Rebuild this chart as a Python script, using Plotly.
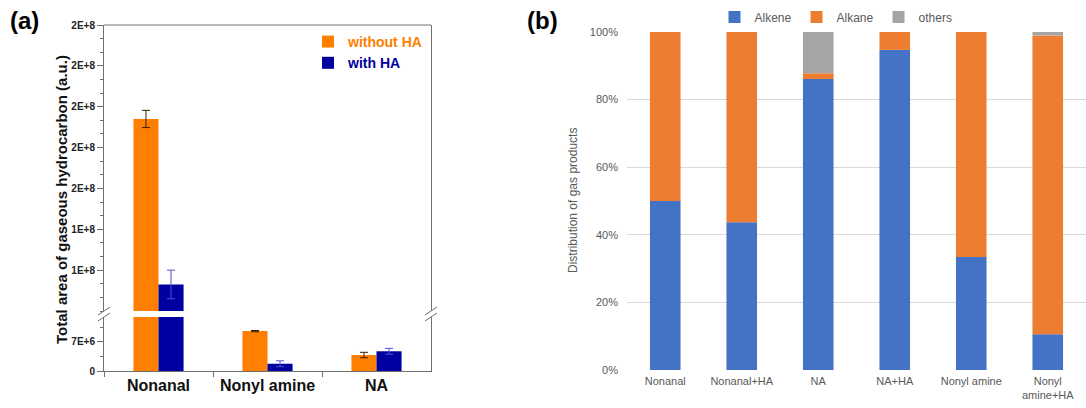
import numpy as np
import plotly.graph_objects as go

# ---------------- data: panel (a) ----------------
cats_a = ["Nonanal", "Nonyl amine", "NA"]
without_ha = [1.94e8, 9.6e6, 3.85e6]
without_ha_err = [4.2e6, 0.15e6, 0.65e6]
with_ha = [1.13e8, 1.75e6, 4.75e6]
with_ha_err = [7.0e6, 0.7e6, 0.7e6]
upper_ticks = [1.2e8, 1.4e8, 1.6e8, 1.8e8, 2.0e8, 2.2e8, 2.4e8]
lower_ticks = [0, 7e6]

# ---------------- data: panel (b) ----------------
cats_b = ["Nonanal", "Nonanal+HA", "NA", "NA+HA", "Nonyl amine", "Nonyl amine+HA"]
cat_labels_b = ["Nonanal", "Nonanal+HA", "NA", "NA+HA", "Nonyl amine", "Nonyl<br>amine+HA"]
alkene = [50.0, 43.7, 86.1, 94.7, 33.4, 10.6]
alkane = [50.0, 56.3, 1.7, 5.3, 66.6, 88.4]
others = [0.0, 0.0, 12.2, 0.0, 0.0, 1.0]
pct_ticks = [0, 20, 40, 60, 80, 100]


def sci(v):
    if v == 0:
        return "0"
    m, e = f"{v:.0E}".split("E")
    return f"{m}E+{int(e)}"


W, H = 1086, 408


def px_x(p):
    return p / W


def px_y(p):
    return 1 - p / H


ORANGE = "#FF8000"
NAVY = "#0000A0"
FONT = "Liberation Sans"

fig = go.Figure()

# panel (a): lower and upper segments of a broken axis
for ya, show in (("y", False), ("y2", True)):
    fig.add_trace(go.Bar(
        x=cats_a, y=without_ha, name=f"<span style='color:{ORANGE}'><b>without HA</b></span>",
        marker=dict(color=ORANGE, line=dict(width=0)), xaxis="x", yaxis=ya,
        offsetgroup="o", showlegend=show, legend="legend",
        error_y=dict(type="data", array=without_ha_err, color="#3a2000", thickness=1, width=4)))
    fig.add_trace(go.Bar(
        x=cats_a, y=with_ha, name=f"<span style='color:{NAVY}'><b>with HA</b></span>",
        marker=dict(color=NAVY, line=dict(width=0)), xaxis="x", yaxis=ya,
        offsetgroup="b", showlegend=show, legend="legend",
        error_y=dict(type="data", array=with_ha_err, color="#5050d0", thickness=1, width=4)))

# panel (b): stacked percentage bars
series_b = [("Alkene", alkene, "#4472C4"), ("Alkane", alkane, "#ED7D31"), ("others", others, "#A5A5A5")]
base = np.zeros(len(cats_b))
for name, vals, col in series_b:
    vals = np.array(vals)
    fig.add_trace(go.Bar(
        x=cats_b, y=vals, base=base.copy(), name=name, marker=dict(color=col, line=dict(width=0)),
        xaxis="x2", yaxis="y3", offsetgroup="s", width=0.4, offset=-0.2, legend="legend2"))
    base = base + vals

axis_col = "#707070"
fig.update_layout(
    width=W, height=H, margin=dict(l=0, r=0, t=0, b=0),
    paper_bgcolor="white", plot_bgcolor="white",
    barmode="group", bargap=0.54, bargroupgap=0,
    font=dict(family=FONT, color="#222"),
    xaxis=dict(domain=[px_x(104), px_x(431)], anchor="y", type="category", range=[-0.5, 2.5],
               showline=True, linecolor=axis_col, linewidth=1, ticks="outside", tickson="boundaries",
               ticklen=5, tickcolor=axis_col, showgrid=False, automargin=False,
               tickfont=dict(size=16, color="#111", family=FONT, weight="bold")),
    yaxis=dict(domain=[px_y(371), px_y(317)], anchor="x", range=[0, 1.3e7],
               tickmode="array", tickvals=lower_ticks, ticktext=[sci(v) for v in lower_ticks],
               showline=True, mirror=True, linecolor=axis_col, linewidth=1, ticks="outside", ticklen=6,
               tickcolor=axis_col, showgrid=False, zeroline=False, automargin=False,
               minor=dict(tick0=0, dtick=3.5e6, ticks="outside", ticklen=3, tickcolor=axis_col),
               tickfont=dict(size=10, color="#222", family=FONT, weight="bold")),
    yaxis2=dict(domain=[px_y(311), px_y(25)], anchor="x", range=[1.0e8, 2.4e8],
                tickmode="array", tickvals=upper_ticks, ticktext=[sci(v) for v in upper_ticks],
                showline=True, mirror=True, linecolor=axis_col, linewidth=1, ticks="outside", ticklen=6,
                tickcolor=axis_col, showgrid=False, zeroline=False, automargin=False,
                minor=dict(tick0=1.2e8, dtick=2e7 / 3, ticks="outside", ticklen=3, tickcolor=axis_col),
                tickfont=dict(size=10, color="#222", family=FONT, weight="bold")),
    xaxis2=dict(domain=[px_x(627), 1.0], anchor="y3", type="category", range=[-0.5, 5.5],
                tickmode="array", tickvals=cats_b, ticktext=cat_labels_b,
                showline=False, ticks="", showgrid=False, automargin=False, ticklabelstandoff=3,
                tickfont=dict(size=11, color="#595959", family=FONT)),
    yaxis3=dict(domain=[px_y(370), px_y(32)], anchor="x2", range=[0, 100],
                tickmode="array", tickvals=pct_ticks, ticktext=[f"{v}%" for v in pct_ticks],
                showline=False, ticks="", showgrid=True, gridcolor="#D9D9D9", gridwidth=1,
                zeroline=False, automargin=False, ticklabelstandoff=8,
                tickfont=dict(size=11, color="#595959", family=FONT)),
    legend=dict(x=px_x(428), xanchor="right", y=px_y(26), yanchor="top", bgcolor="rgba(0,0,0,0)",
                font=dict(size=14, family=FONT), itemwidth=30, tracegroupgap=0),
    legend2=dict(orientation="h", x=px_x(836), xanchor="center", y=px_y(17), yanchor="middle",
                 bgcolor="rgba(0,0,0,0)", font=dict(size=12, color="#595959", family=FONT),
                 itemwidth=30, traceorder="normal"),
)

# frame top line for panel (a)
fig.add_shape(type="line", xref="paper", yref="paper", x0=px_x(104), x1=px_x(431),
              y0=px_y(25), y1=px_y(25), line=dict(color=axis_col, width=1))
# axis-break marks
for xc in (104, 431):
    for dy in (-3, 3):
        fig.add_shape(type="line", xref="paper", yref="paper",
                      x0=px_x(xc - 6), y0=px_y(318 + dy), x1=px_x(xc + 6), y1=px_y(310 + dy),
                      line=dict(color=axis_col, width=1))

annotations = [
    dict(text="<b>(a)</b>", x=px_x(8), y=px_y(20), xanchor="left", yanchor="middle",
         font=dict(size=24, color="black", family=FONT)),
    dict(text="<b>(b)</b>", x=px_x(525), y=px_y(20), xanchor="left", yanchor="middle",
         font=dict(size=24, color="black", family=FONT)),
    dict(text="<b>Total area of gaseous hydrocarbon (a.u.)</b>", x=px_x(61), y=px_y(200),
         textangle=-90, xanchor="center", yanchor="middle",
         font=dict(size=15, color="#111", family=FONT)),
    dict(text="Distribution of gas products", x=px_x(573), y=px_y(201),
         textangle=-90, xanchor="center", yanchor="middle",
         font=dict(size=12, color="#595959", family=FONT)),
]
for a in annotations:
    a.update(xref="paper", yref="paper", showarrow=False)
fig.update_layout(annotations=annotations)

fig.write_html("out.html", config={"displayModeBar": False},
               post_script="document.body.style.margin='0px';")
